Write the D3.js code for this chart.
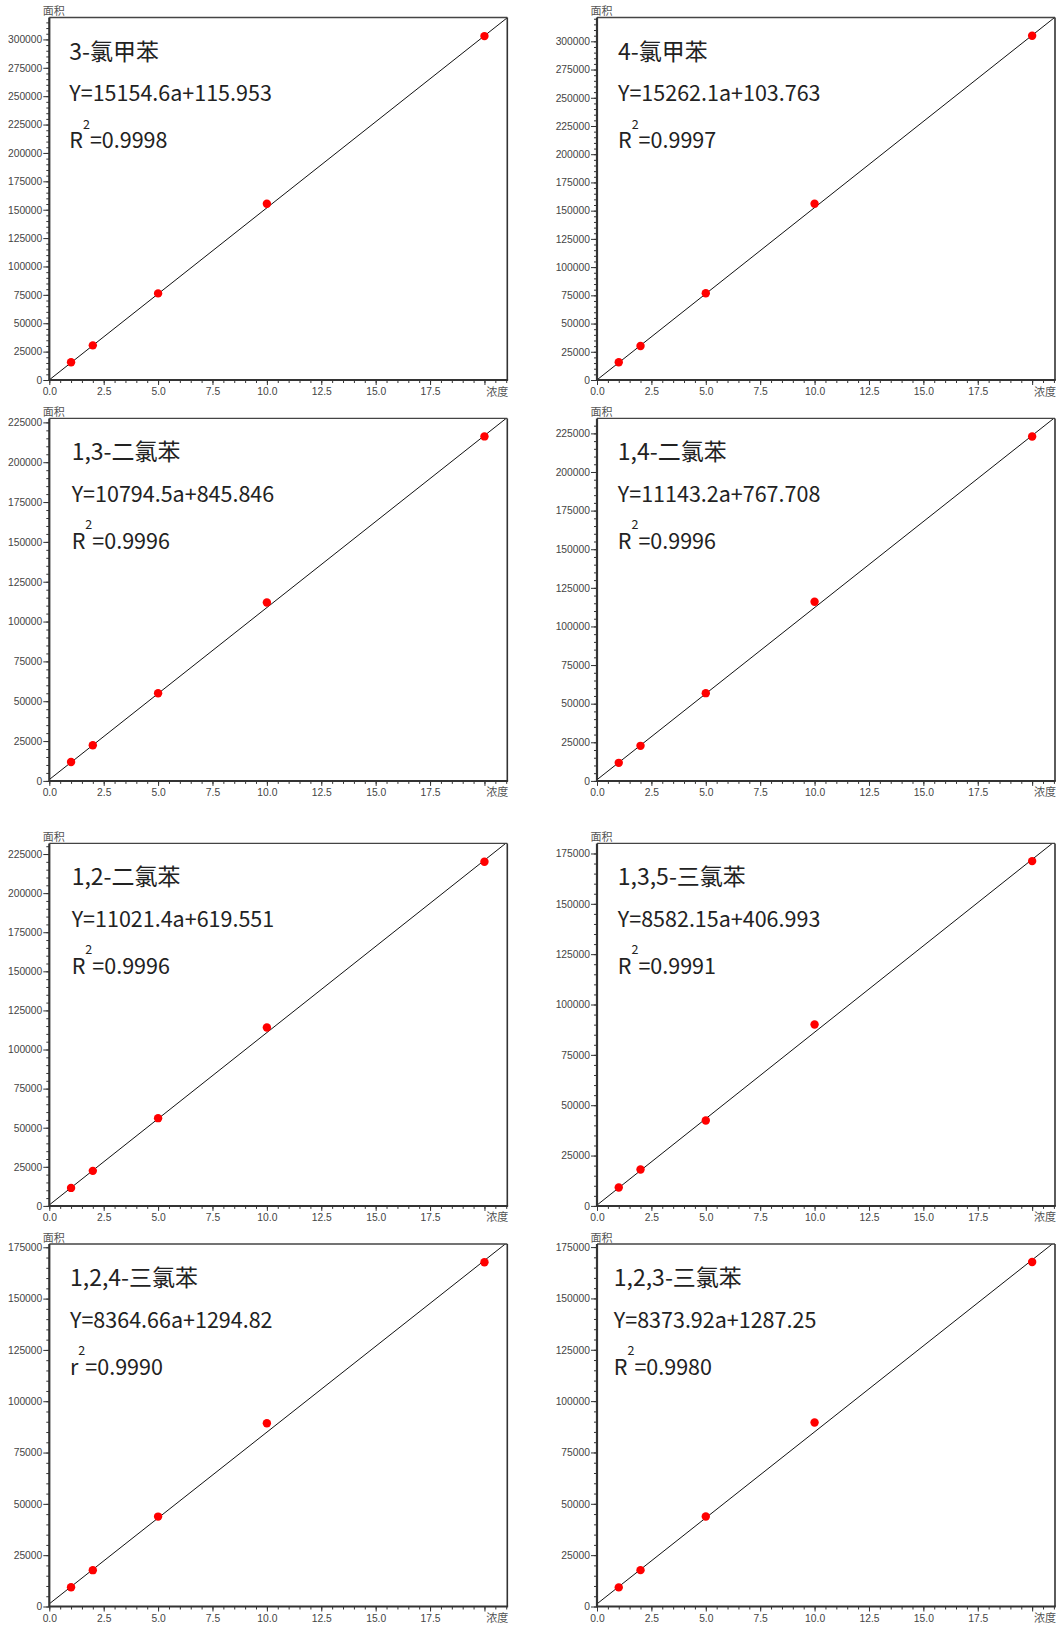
<!DOCTYPE html>
<html>
<head>
<meta charset="utf-8">
<script src="https://cdn.jsdelivr.net/npm/d3@7"></script>
<style>
  html, body { margin: 0; padding: 0; background: #fff; }
  svg { display: block; }
</style>
</head>
<body>
<svg id="chart" width="1056" height="1625"></svg>
<script>
// Calibration curves: peak area vs. concentration for eight chlorinated aromatics
const compounds = ["3-氯甲苯", "4-氯甲苯", "1,3-二氯苯", "1,4-二氯苯",
                   "1,2-二氯苯", "1,3,5-三氯苯", "1,2,4-三氯苯", "1,2,3-三氯苯"];
const slopes = [15154.6, 15262.1, 10794.5, 11143.2, 11021.4, 8582.15, 8364.66, 8373.92];
const intercepts = [115.953, 103.763, 845.846, 767.708, 619.551, 406.993, 1294.82, 1287.25];
const rSymbols = ["R", "R", "R", "R", "R", "R", "r", "R"];
const rSquared = ["0.9998", "0.9997", "0.9996", "0.9996", "0.9996", "0.9991", "0.9990", "0.9980"];

const concentrations = [1, 2, 5, 10, 20];
const peakAreas = [
  [15600, 30500, 76300, 155200, 302900],
  [15700, 30100, 76800, 156200, 305000],
  [11900, 22400, 55000, 112000, 216200],
  [11700, 22700, 56800, 116000, 223000],
  [11500, 22400, 56100, 114100, 220100],
  [9100, 18100, 42400, 90100, 171200],
  [9400, 17700, 43800, 89300, 167700],
  [9300, 17700, 43800, 89600, 167700]
];

// axis extents and tick labels
const xAxisMax = 21.05;
const xTickLabels = [0, 2.5, 5, 7.5, 10, 12.5, 15, 17.5];
const xEndTick = 20;
const yAxisMax = [319300, 321100, 227500, 234700, 231800, 180000, 176600, 176500];
const yTickTop = [300000, 300000, 225000, 225000, 225000, 175000, 175000, 175000];
const yMajorStep = 25000, yMinorStep = 5000, xMinorStep = 0.5;
const yAxisTitle = "面积", xAxisTitle = "浓度";

// page layout
const colLeft = [49.3, 597];
const rowTop = [17.5, 418.4, 843.4, 1244];
const plotW = 458, plotH = 362.5;
const textInsetX = [20, 21, 22.4, 20.8, 22.4, 20.8, 20.7, 16.8];

const svg = d3.select("#chart");
svg.append("rect").attr("width", 1056).attr("height", 1625).attr("fill", "#fff");

const tickFont = "'Liberation Sans', Arial, sans-serif";
const cjkFont = "'Noto Sans CJK SC', 'Noto Sans', sans-serif";

compounds.forEach((name, i) => {
  const left = colLeft[i % 2], top = rowTop[Math.floor(i / 2)];
  const g = svg.append("g").attr("transform", `translate(${left},${top})`);

  const x = d3.scaleLinear().domain([0, xAxisMax]).range([0, plotW]);
  const y = d3.scaleLinear().domain([0, yAxisMax[i]]).range([plotH, 0]);

  const clipId = "clip" + i;
  g.append("clipPath").attr("id", clipId)
    .append("rect").attr("width", plotW).attr("height", plotH);

  // regression line from the stated equation
  const fit = a => slopes[i] * a + intercepts[i];
  g.append("path")
    .attr("clip-path", `url(#${clipId})`)
    .datum([0, xAxisMax])
    .attr("d", d3.line().x(a => x(a)).y(a => y(fit(a))))
    .attr("fill", "none").attr("stroke", "#111").attr("stroke-width", 1);

  // measured points
  g.selectAll("circle.pt")
    .data(concentrations.map((c, k) => [c, peakAreas[i][k]]))
    .join("circle").attr("class", "pt")
    .attr("cx", d => x(d[0])).attr("cy", d => y(d[1]))
    .attr("r", 4.2).attr("fill", "#ff0000");

  // frame
  g.append("line").attr("x1", 0).attr("x2", plotW).attr("y1", 0).attr("y2", 0)
    .attr("stroke", "#444").attr("stroke-width", 1.4);
  g.append("line").attr("x1", plotW).attr("x2", plotW).attr("y1", 0).attr("y2", plotH)
    .attr("stroke", "#333").attr("stroke-width", 1.6);

  // y axis: minor then major ticks
  const yMinor = g.append("g").call(
    d3.axisLeft(y).tickValues(d3.range(0, yAxisMax[i], yMinorStep)).tickSize(3).tickFormat(""));
  const yMajor = g.append("g").call(
    d3.axisLeft(y).tickValues(d3.range(0, yTickTop[i] + 1, yMajorStep))
      .tickSize(6).tickPadding(1).tickFormat(d3.format("d")));
  // x axis
  const xMinor = g.append("g").attr("transform", `translate(0,${plotH})`).call(
    d3.axisBottom(x).tickValues(d3.range(0, xAxisMax, xMinorStep)).tickSize(3).tickFormat(""));
  const xMajor = g.append("g").attr("transform", `translate(0,${plotH})`).call(
    d3.axisBottom(x).tickValues(xTickLabels.concat([xEndTick])).tickSize(5).tickPadding(3)
      .tickFormat(v => v === xEndTick ? "" : d3.format(".1f")(v)));

  [yMinor, yMajor, xMinor, xMajor].forEach(ax => {
    ax.select(".domain").remove();
    ax.selectAll(".tick line").attr("stroke", "#333");
    ax.selectAll("text").attr("fill", "#444").style("font-family", tickFont).style("font-size", "10.3px");
  });

  g.append("line").attr("x1", 0).attr("x2", 0).attr("y1", 0).attr("y2", plotH + 0.5)
    .attr("stroke", "#333").attr("stroke-width", 2.2);
  g.append("line").attr("x1", -0.5).attr("x2", plotW + 0.8).attr("y1", plotH).attr("y2", plotH)
    .attr("stroke", "#333").attr("stroke-width", 2);

  // axis titles
  g.append("text").attr("x", -6.6).attr("y", -2.2)
    .style("font-family", cjkFont).style("font-size", "11px").attr("fill", "#555")
    .text(yAxisTitle);
  g.append("text").attr("x", plotW + 1).attr("y", plotH + 15.5).attr("text-anchor", "end")
    .style("font-family", cjkFont).style("font-size", "11px").attr("fill", "#555")
    .text(xAxisTitle);

  // annotation block
  const tx = textInsetX[i];
  const note = g.append("g").attr("fill", "#222").style("font-family", cjkFont);
  note.append("text").attr("x", tx).attr("y", 42).style("font-size", "23px").text(name);
  note.append("text").attr("x", tx).attr("y", 83.5).style("font-size", "21.5px")
    .text(`Y=${slopes[i]}a+${intercepts[i]}`);
  const r = note.append("text").attr("x", tx).attr("y", 130.5).style("font-size", "21.5px");
  r.append("tspan").text(rSymbols[i]);
  r.append("tspan").attr("dy", -19.5).style("font-size", "12.5px").text("2");
  r.append("tspan").attr("dy", 19.5).text("=" + rSquared[i]);
});
</script>
</body>
</html>
